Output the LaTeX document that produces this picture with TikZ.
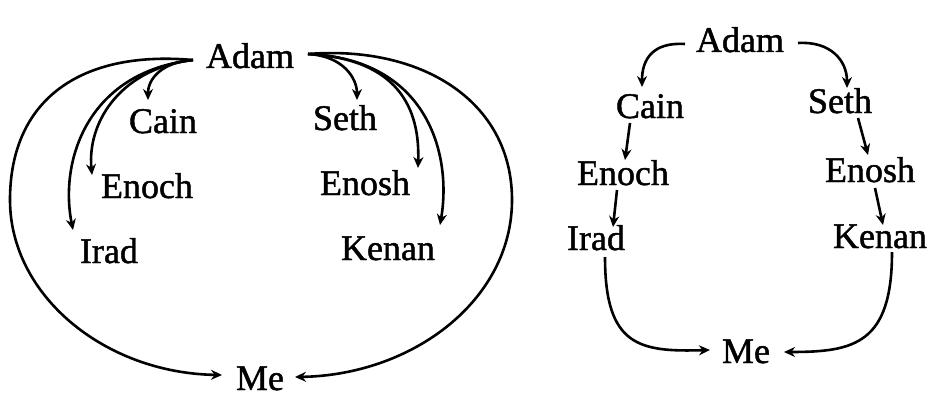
\documentclass[tikz,border=0pt]{standalone}
\usepackage{fontspec}
\setmainfont{Liberation Serif}[BoldFont=Liberation Serif,BoldFeatures={FakeBold=1.3}]
\usetikzlibrary{arrows.meta}
\begin{document}
\begin{tikzpicture}[x=1pt,y=-1pt,
  lbl/.style={anchor=base,inner sep=0pt,font=\fontsize{36}{40}\selectfont\bfseries},
  conn/.style={line width=2.6pt,-{Stealth[length=11pt,width=10pt]}}]
\useasboundingbox[fill=white] (0,0) rectangle (929,396);
% ---------- left diagram ----------
\node[lbl] (adamL)  at (250,68)  {Adam};
\node[lbl] (cainL)  at (163,133) {Cain};
\node[lbl] (sethL)  at (345,130) {Seth};
\node[lbl] (enochL) at (147,198) {Enoch};
\node[lbl] (enoshL) at (365,195) {Enosh};
\node[lbl] (iradL)  at (109,263) {Irad};
\node[lbl] (kenanL) at (388,260) {Kenan};
\node[lbl] (meL)    at (260,390) {Me};
% left fan
\draw[conn] ([shift={(-57,-8)}]adamL.base) .. controls +(-30,2) and +(0,-22) .. ([shift={(-15,-33)}]cainL.base);
\draw[conn] ([shift={(-57,-8)}]adamL.base) .. controls +(-70,8) and +(-5,-55) .. ([shift={(-55,-23)}]enochL.base);
\draw[conn] ([shift={(-57,-8)}]adamL.base) .. controls +(-105,12) and +(-14,-70) .. ([shift={(-36,-33)}]iradL.base);
\draw[conn] ([shift={(-57,-8)}]adamL.base) .. controls +(-113,-10) and +(0,-100) .. ([shift={(-240,132)}]adamL.base)
  .. controls +(0,95) and +(-118,-2) .. ([shift={(-38,-15)}]meL.base);
% right fan
\draw[conn] ([shift={(58,-14)}]adamL.base) .. controls +(35,2) and +(0,-22) .. ([shift={(12,-30)}]sethL.base);
\draw[conn] ([shift={(58,-14)}]adamL.base) .. controls +(90,5) and +(2,-60) .. ([shift={(53,-27)}]enoshL.base);
\draw[conn] ([shift={(58,-14)}]adamL.base) .. controls +(120,5) and +(12,-70) .. ([shift={(52,-35)}]kenanL.base);
\draw[conn] ([shift={(58,-14)}]adamL.base) .. controls +(112,-9) and +(0,-100) .. ([shift={(262,132)}]adamL.base)
  .. controls +(0,100) and +(118,-2) .. ([shift={(35,-13)}]meL.base);
% ---------- right diagram ----------
\node[lbl] (adamR)  at (740,52)  {Adam};
\node[lbl] (cainR)  at (650,118) {Cain};
\node[lbl] (sethR)  at (840,113) {Seth};
\node[lbl] (enochR) at (623,185) {Enoch};
\node[lbl] (enoshR) at (870,182) {Enosh};
\node[lbl] (iradR)  at (596,250) {Irad};
\node[lbl] (kenanR) at (880,248) {Kenan};
\node[lbl] (meR)    at (746,363) {Me};
\draw[conn] ([shift={(-55,-8)}]adamR.base) .. controls +(-32,-2) and +(0,-28) .. ([shift={(-8,-31)}]cainR.base);
\draw[conn] ([shift={(58,-9)}]adamR.base) .. controls +(32,-2) and +(0,-28) .. ([shift={(7,-25)}]sethR.base);
\draw[conn] ([shift={(-20,5)}]cainR.base) -- ([shift={(2,-25)}]enochR.base);
\draw[conn] ([shift={(-6,5)}]enochR.base) -- ([shift={(17,-23)}]iradR.base);
\draw[conn] ([shift={(18,5)}]sethR.base) -- ([shift={(-2,-27)}]enoshR.base);
\draw[conn] ([shift={(5,6)}]enoshR.base) -- ([shift={(3,-23)}]kenanR.base);
\draw[conn] ([shift={(9,7)}]iradR.base) .. controls +(0,90) and +(-70,2) .. ([shift={(-36,-13)}]meR.base);
\draw[conn] ([shift={(12,4)}]kenanR.base) .. controls +(0,92) and +(70,0) .. ([shift={(38,-11)}]meR.base);
\end{tikzpicture}
\end{document}
